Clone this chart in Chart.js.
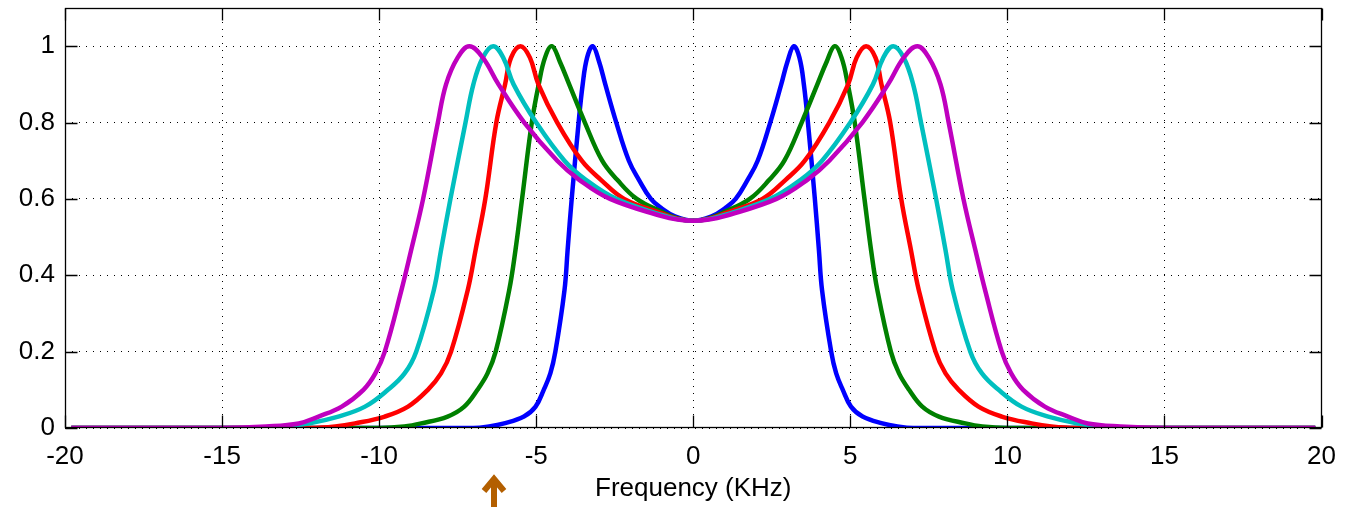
<!DOCTYPE html>
<html lang="en">
<head>
<meta charset="UTF-8">
<title>Frequency (KHz)</title>
<script src="https://cdn.jsdelivr.net/npm/chart.js"></script>
<style>
    body { margin: 0; background: #ffffff; }
    #grafico { display: block; }
</style>
</head>
<body>
<canvas id="grafico" width="1349" height="507"></canvas>

<script>
// values: frequency in KHz, normalised gain
const freqBlue = [-19.8, -7, -6.5, -6.02, -5.39, -5.02, -4.76, -4.55, -4.39, -4.1, -4.0, -3.87, -3.65, -3.52, -3.38, -3.2, -3.0, -2.8, -2.45, -2.05, -1.73, -1.35, -1.0, -0.6, 0,
    0.6, 1.0, 1.35, 1.73, 2.05, 2.45, 2.8, 3.0, 3.2, 3.38, 3.52, 3.65, 3.87, 4.0, 4.1, 4.39, 4.55, 4.76, 5.02, 5.39, 6.02, 6.5, 7, 19.8];
const gainBlue = [0, 0, 0.004, 0.012, 0.03, 0.056, 0.1, 0.143, 0.2, 0.361, 0.466, 0.6, 0.8, 0.9, 0.97, 1.0, 0.96, 0.9, 0.8, 0.7, 0.65, 0.6, 0.575, 0.555, 0.543,
    0.555, 0.575, 0.6, 0.65, 0.7, 0.8, 0.9, 0.96, 1.0, 0.97, 0.9, 0.8, 0.6, 0.466, 0.361, 0.2, 0.143, 0.1, 0.056, 0.03, 0.012, 0.004, 0, 0];

const freqGreen = [-19.8, -10, -9.2, -8.66, -7.82, -7.29, -6.87, -6.55, -6.29, -5.86, -5.66, -5.45, -5.14, -4.92, -4.72, -4.5, -4.25, -3.95, -3.45, -2.9, -2.42, -1.8, -1.0, -0.5, 0,
    0.5, 1.0, 1.8, 2.42, 2.9, 3.45, 3.95, 4.25, 4.5, 4.72, 4.92, 5.14, 5.45, 5.66, 5.86, 6.29, 6.55, 6.87, 7.29, 7.82, 8.66, 9.2, 10, 19.8];
const gainGreen = [0, 0, 0.004, 0.012, 0.03, 0.056, 0.1, 0.143, 0.2, 0.361, 0.466, 0.6, 0.8, 0.9, 0.97, 1.0, 0.96, 0.9, 0.8, 0.7, 0.65, 0.6, 0.566, 0.549, 0.543,
    0.549, 0.566, 0.6, 0.65, 0.7, 0.8, 0.9, 0.96, 1.0, 0.97, 0.9, 0.8, 0.6, 0.466, 0.361, 0.2, 0.143, 0.1, 0.056, 0.03, 0.012, 0.004, 0, 0];

const freqRed = [-19.8, -12.2, -11.4, -10.77, -9.82, -9.08, -8.45, -8.03, -7.71, -7.18, -6.93, -6.62, -6.27, -5.99, -5.8, -5.5, -5.2, -4.93, -4.33, -3.55, -2.94, -2.2, -1.0, -0.5, 0,
    0.5, 1.0, 2.2, 2.94, 3.55, 4.33, 4.93, 5.2, 5.5, 5.8, 5.99, 6.27, 6.62, 6.93, 7.18, 7.71, 8.03, 8.45, 9.08, 9.82, 10.77, 11.4, 12.2, 19.8];
const gainRed = [0, 0, 0.004, 0.012, 0.03, 0.056, 0.1, 0.143, 0.2, 0.361, 0.466, 0.6, 0.8, 0.9, 0.97, 1.0, 0.97, 0.9, 0.8, 0.7, 0.65, 0.6, 0.562, 0.548, 0.543,
    0.548, 0.562, 0.6, 0.65, 0.7, 0.8, 0.9, 0.97, 1.0, 0.97, 0.9, 0.8, 0.6, 0.466, 0.361, 0.2, 0.143, 0.1, 0.056, 0.03, 0.012, 0.004, 0, 0];

const freqCyan = [-19.8, -14, -13.1, -12.25, -11.3, -10.45, -9.72, -9.19, -8.82, -8.26, -8.03, -7.73, -7.25, -7.0, -6.7, -6.37, -6.05, -5.72, -5.0, -4.1, -3.42, -2.45, -1.0, -0.5, 0,
    0.5, 1.0, 2.45, 3.42, 4.1, 5.0, 5.72, 6.05, 6.37, 6.7, 7.0, 7.25, 7.73, 8.03, 8.26, 8.82, 9.19, 9.72, 10.45, 11.3, 12.25, 13.1, 14, 19.8];
const gainCyan = [0, 0, 0.004, 0.012, 0.03, 0.056, 0.1, 0.143, 0.2, 0.361, 0.466, 0.6, 0.8, 0.9, 0.97, 1.0, 0.97, 0.9, 0.8, 0.7, 0.65, 0.6, 0.558, 0.547, 0.543,
    0.547, 0.558, 0.6, 0.65, 0.7, 0.8, 0.9, 0.97, 1.0, 0.97, 0.9, 0.8, 0.6, 0.466, 0.361, 0.2, 0.143, 0.1, 0.056, 0.03, 0.012, 0.004, 0, 0];

const freqMagenta = [-19.8, -15, -13.6, -12.56, -11.93, -11.19, -10.5, -10.12, -9.82, -9.29, -8.98, -8.6, -8.13, -7.87, -7.5, -7.13, -6.7, -6.2, -5.38, -4.33, -3.63, -2.65, -1.0, -0.5, 0,
    0.5, 1.0, 2.65, 3.63, 4.33, 5.38, 6.2, 6.7, 7.13, 7.5, 7.87, 8.13, 8.6, 8.98, 9.29, 9.82, 10.12, 10.5, 11.19, 11.93, 12.56, 13.6, 15, 19.8];
const gainMagenta = [0, 0, 0.004, 0.012, 0.03, 0.056, 0.1, 0.143, 0.2, 0.361, 0.466, 0.6, 0.8, 0.9, 0.97, 1.0, 0.97, 0.9, 0.8, 0.7, 0.65, 0.6, 0.555, 0.546, 0.543,
    0.546, 0.555, 0.6, 0.65, 0.7, 0.8, 0.9, 0.97, 1.0, 0.97, 0.9, 0.8, 0.6, 0.466, 0.361, 0.2, 0.143, 0.1, 0.056, 0.03, 0.012, 0.004, 0, 0];

// axis ticks
const xTicks = [-20, -15, -10, -5, 0, 5, 10, 15, 20];
const yTicks = [0, 0.2, 0.4, 0.6, 0.8, 1];
const xTitle = "Frequency (KHz)";
// where the brown arrow under the axis points
const arrowFreq = -6.35;

const fonte = { family: "'Liberation Sans', Arial, sans-serif", size: 26 };

function pontos(freqs, gains) {
    return freqs.map(function (f, i) { return { x: f, y: gains[i] }; });
}

function serie(freqs, gains, cor, ordem) {
    return {
        data: pontos(freqs, gains),
        borderColor: cor,
        borderWidth: 4.5,
        pointRadius: 0,
        fill: false,
        tension: 0.4,
        order: ordem
    };
}

// box, inward tick marks (matlab style) and the arrow annotation
const moldura = {
    id: "moldura",
    afterDraw(chart) {
        const ctx = chart.ctx;
        const a = chart.chartArea;
        const sx = chart.scales.x;
        const sy = chart.scales.y;
        const L = Math.round(a.left) + 0.5, R = Math.round(a.right) - 0.5;
        const T = Math.round(a.top) + 0.5, B = Math.round(a.bottom) - 0.5;
        const tam = 12;

        ctx.save();
        ctx.strokeStyle = "#000";
        ctx.lineWidth = 1.3;
        ctx.strokeRect(L, T, R - L, B - T);

        ctx.beginPath();
        xTicks.forEach(function (v) {
            const p = Math.round(sx.getPixelForValue(v)) + 0.5;
            ctx.moveTo(p, B); ctx.lineTo(p, B - tam);
            ctx.moveTo(p, T); ctx.lineTo(p, T + tam);
        });
        yTicks.forEach(function (v) {
            const p = Math.round(sy.getPixelForValue(v)) + 0.5;
            ctx.moveTo(L, p); ctx.lineTo(L + tam, p);
            ctx.moveTo(R, p); ctx.lineTo(R - tam, p);
        });
        ctx.stroke();

        // arrow
        const ax = Math.round(sx.getPixelForValue(arrowFreq));
        const h = chart.height;
        ctx.strokeStyle = "#B35F00";
        ctx.lineWidth = 6;
        ctx.beginPath();
        ctx.moveTo(ax, h - 27);
        ctx.lineTo(ax, h);
        ctx.stroke();
        ctx.beginPath();
        ctx.moveTo(ax - 10, h - 16);
        ctx.lineTo(ax, h - 28);
        ctx.lineTo(ax + 10, h - 16);
        ctx.stroke();
        ctx.restore();
    }
};

const dados = {
    datasets: [
        serie(freqBlue, gainBlue, "#0000FF", 5),
        serie(freqGreen, gainGreen, "#008000", 4),
        serie(freqRed, gainRed, "#FF0000", 3),
        serie(freqCyan, gainCyan, "#00BFBF", 2),
        serie(freqMagenta, gainMagenta, "#BF00BF", 1)
    ]
};

const config = {
    type: "line",
    data: dados,
    options: {
        responsive: false,
        animation: false,
        devicePixelRatio: 1,
        locale: "en-US",
        layout: { padding: { left: 0, right: 20, top: 8, bottom: 0 } },
        scales: {
            x: {
                type: "linear",
                min: xTicks[0],
                max: xTicks[xTicks.length - 1],
                afterFit: function (s) { s.height = 79; },
                afterBuildTicks: function (s) { s.ticks = xTicks.map(function (v) { return { value: v }; }); },
                ticks: { color: "#000", font: fonte, padding: 13, maxRotation: 0, autoSkip: false },
                grid: { color: "#000", lineWidth: 1, drawTicks: false },
                border: { display: false, dash: [1, 6] },
                title: { display: true, text: xTitle, color: "#000", font: fonte, padding: { top: 0, bottom: 3 } }
            },
            y: {
                min: 0,
                max: 1.1,
                afterFit: function (s) {
                    s.width = 65;
                    // labels sit well inside the box, no extra room needed
                    s.paddingTop = 0;
                    s.paddingBottom = 0;
                },
                afterBuildTicks: function (s) { s.ticks = yTicks.map(function (v) { return { value: v }; }); },
                ticks: {
                    color: "#000",
                    font: fonte,
                    padding: 10,
                    callback: function (v) { return String(Math.round(v * 10) / 10); }
                },
                grid: { color: "#000", lineWidth: 1, drawTicks: false },
                border: { display: false, dash: [1, 6] }
            }
        },
        plugins: {
            legend: { display: false },
            tooltip: { enabled: false },
            title: { display: false }
        }
    },
    plugins: [moldura]
};

new Chart(document.getElementById("grafico"), config);
</script>
</body>
</html>
